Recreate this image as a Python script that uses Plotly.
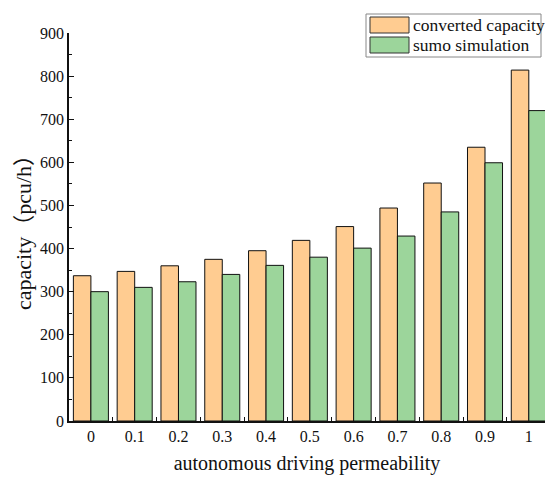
import plotly.graph_objects as go

categories = ["0", "0.1", "0.2", "0.3", "0.4", "0.5", "0.6", "0.7", "0.8", "0.9", "1"]
converted_capacity = [337, 347, 360, 375, 395, 419, 451, 494, 552, 635, 814]
sumo_simulation = [300, 310, 323, 340, 361, 380, 401, 429, 485, 599, 720]
series_names = ["converted capacity", "sumo simulation"]
y_ticks = [0, 100, 200, 300, 400, 500, 600, 700, 800, 900]

ORANGE = "#FFCC91"
GREEN = "#9CD59B"
FONT = "Liberation Serif"
CJK = "Noto Sans CJK SC"

fig = go.Figure()
fig.add_trace(go.Bar(x=categories, y=converted_capacity, name=series_names[0],
                     marker=dict(color=ORANGE, line=dict(color="#111111", width=1))))
fig.add_trace(go.Bar(x=categories, y=sumo_simulation, name=series_names[1],
                     marker=dict(color=GREEN, line=dict(color="#111111", width=1))))

y_title = ("capacity<span style='font-family:%s'>（</span>pcu/h"
           "<span style='font-family:%s'>）</span>") % (CJK, CJK)

fig.update_layout(
    width=545, height=477,
    margin=dict(l=69, r=0, t=33, b=56),
    paper_bgcolor="white", plot_bgcolor="white",
    barmode="group", bargap=0.2, bargroupgap=0,
    showlegend=False,
    font=dict(family=FONT, color="#111111", size=16),
    xaxis=dict(
        type="category", range=[-0.5, 10.37],
        showline=True, linecolor="#111111", linewidth=1.5,
        ticks="inside", ticklen=4, tickcolor="#111111", tickwidth=1,
        tickson="boundaries", showgrid=False, zeroline=False,
        tickfont=dict(family=FONT, size=16),
        title=dict(text="autonomous driving permeability", font=dict(family=FONT, size=20), standoff=12),
    ),
    yaxis=dict(
        range=[0, 900], tickvals=y_ticks,
        showline=True, linecolor="#111111", linewidth=1.5,
        ticks="inside", ticklen=5, tickcolor="#111111", tickwidth=1,
        minor=dict(ticks="inside", ticklen=3, dtick=50, tickcolor="#111111", showgrid=False),
        showgrid=False, zeroline=False,
        tickfont=dict(family=FONT, size=16),
        title=dict(text=y_title, font=dict(family=FONT, size=22), standoff=2),
    ),
)

# legend drawn as a box with large swatches (pixel positions converted to paper coords)
PL, PR, PT, PB = 69, 545, 33, 421
def fx(x):
    return (x - PL) / (PR - PL)
def fy(y):
    return (PB - y) / (PB - PT)

fig.add_shape(type="rect", xref="paper", yref="paper",
              x0=fx(366), x1=fx(541), y0=fy(57), y1=fy(14),
              line=dict(color="#888888", width=1), fillcolor="white", layer="above")
for i, (name, col) in enumerate(zip(series_names, [ORANGE, GREEN])):
    top = 17 + i * 20
    fig.add_shape(type="rect", xref="paper", yref="paper",
                  x0=fx(370), x1=fx(409), y0=fy(top + 16), y1=fy(top),
                  line=dict(color="#333333", width=1), fillcolor=col, layer="above")
    fig.add_annotation(xref="paper", yref="paper", x=fx(412), y=fy(top + 8),
                       text=name, showarrow=False, xanchor="left", yanchor="middle",
                       borderpad=0,
                       font=dict(family=FONT, size=17.5, color="#111111"))

fig.write_html("out.html", config={"displayModeBar": False},
               post_script="document.body.style.margin='0';document.body.style.padding='0';document.body.style.overflow='hidden';")
